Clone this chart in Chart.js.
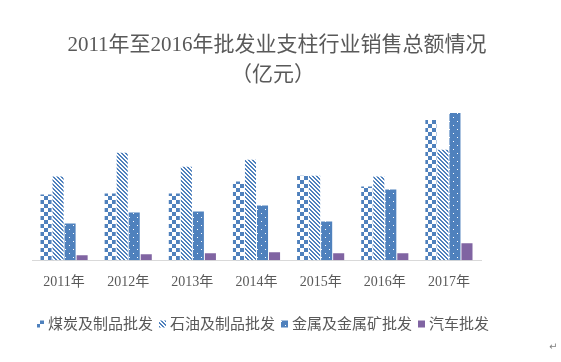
<!DOCTYPE html>
<html>
<head>
<meta charset="utf-8">
<script src="https://cdn.jsdelivr.net/npm/chart.js@4/dist/chart.umd.min.js"></script>
<style>
  html, body { margin: 0; padding: 0; background: #fff; }
  #wrap { width: 561px; height: 362px; position: relative; }
</style>
</head>
<body>
<div id="wrap"><canvas id="chart"></canvas></div>
<script>
// данные
const years = ['2011年', '2012年', '2013年', '2014年', '2015年', '2016年', '2017年'];
const seriesNames = ['煤炭及制品批发', '石油及制品批发', '金属及金属矿批发', '汽车批发'];
const coal = [66, 67, 67, 79, 85, 74, 141];
const oil = [84, 108, 94, 101, 85, 84, 111];
const metal = [37, 48, 49, 55, 39, 71, 148];
const cars = [5, 6, 7, 8, 7, 7, 17];
const titleLines = ['2011年至2016年批发业支柱行业销售总额情况', '（亿元）'];

const BLUE = '#4F81BD';
const PURPLE = '#8064A2';
const GREY = '#595959';

// заливки-узоры как в Excel
function makePattern(kind) {
    const c = document.createElement('canvas');
    const size = kind === 'stripes' ? 4 : 8;
    c.width = size;
    c.height = size;
    const ctx = c.getContext('2d');
    if (kind === 'checker') {
        ctx.fillStyle = '#fff';
        ctx.fillRect(0, 0, 8, 8);
        ctx.fillStyle = BLUE;
        ctx.fillRect(0, 0, 4, 4);
        ctx.fillRect(4, 4, 4, 4);
    } else if (kind === 'stripes') {
        ctx.fillStyle = '#fff';
        ctx.fillRect(0, 0, 4, 4);
        ctx.fillStyle = BLUE;
        for (let y = 0; y < 4; y++) {
            for (let x = 0; x < 4; x++) {
                const d = ((x - y) % 4 + 4) % 4;
                if (d === 0 || d === 1) ctx.fillRect(x, y, 1, 1);
            }
        }
    } else if (kind === 'dots') {
        ctx.fillStyle = BLUE;
        ctx.fillRect(0, 0, 8, 8);
        ctx.fillStyle = '#fff';
        ctx.fillRect(1, 1, 1, 1);
        ctx.fillRect(5, 5, 1, 1);
    }
    return ctx.createPattern(c, 'repeat');
}

// заголовок в две строки и легенда в одну строку
const textPlugin = {
    id: 'titleAndLegend',
    afterDraw(chart) {
        const ctx = chart.ctx;
        ctx.save();
        ctx.fillStyle = GREY;
        ctx.textAlign = 'center';
        ctx.textBaseline = 'middle';
        ctx.font = "21px 'Liberation Serif', 'Noto Sans CJK SC'";
        ctx.fillText(titleLines[0], 277, 45);
        ctx.fillText(titleLines[1], 273, 75);

        ctx.font = "15px 'Noto Sans CJK SC'";
        ctx.textAlign = 'left';
        const box = 7, gapText = 4, gapItem = 6;
        const items = chart.data.datasets.map(ds => ({
            ds, w: box + gapText + ctx.measureText(ds.label).width
        }));
        const total = items.reduce((s, it) => s + it.w, 0) + gapItem * (items.length - 1);
        let x = 263 - total / 2;
        const y = 323;
        items.forEach(it => {
            ctx.fillStyle = it.ds.backgroundColor;
            ctx.fillRect(x, y - box / 2 + 1, box, box);
            ctx.fillStyle = GREY;
            ctx.fillText(it.ds.label, x + box + gapText, y);
            x += it.w + gapItem;
        });

        // знак абзаца из Word в углу
        ctx.font = "10px 'DejaVu Sans'";
        ctx.fillStyle = '#808080';
        ctx.fillText('↵', 549, 347);
        ctx.restore();
    }
};

const datasets = [
    { label: seriesNames[0], data: coal, backgroundColor: makePattern('checker') },
    { label: seriesNames[1], data: oil, backgroundColor: makePattern('stripes') },
    { label: seriesNames[2], data: metal, backgroundColor: makePattern('dots') },
    { label: seriesNames[3], data: cars, backgroundColor: PURPLE }
];

new Chart(document.getElementById('chart'), {
    type: 'bar',
    data: { labels: years, datasets: datasets },
    plugins: [textPlugin],
    options: {
        responsive: true,
        maintainAspectRatio: false,
        animation: false,
        devicePixelRatio: 1,
        layout: { padding: { top: 101, left: 32, right: 80, bottom: 65 } },
        datasets: {
            bar: { categoryPercentage: 0.75, barPercentage: 0.92, borderWidth: 0 }
        },
        plugins: {
            title: { display: false },
            tooltip: { enabled: false },
            legend: { display: false }
        },
        scales: {
            x: {
                grid: { display: false },
                border: { display: true, color: '#D9D9D9', width: 1 },
                ticks: {
                    color: GREY,
                    padding: 6,
                    font: { size: 14, family: "'Liberation Serif', 'Noto Sans CJK SC'" }
                }
            },
            y: {
                display: false,
                min: 0,
                max: 160
            }
        }
    }
});
</script>
</body>
</html>
